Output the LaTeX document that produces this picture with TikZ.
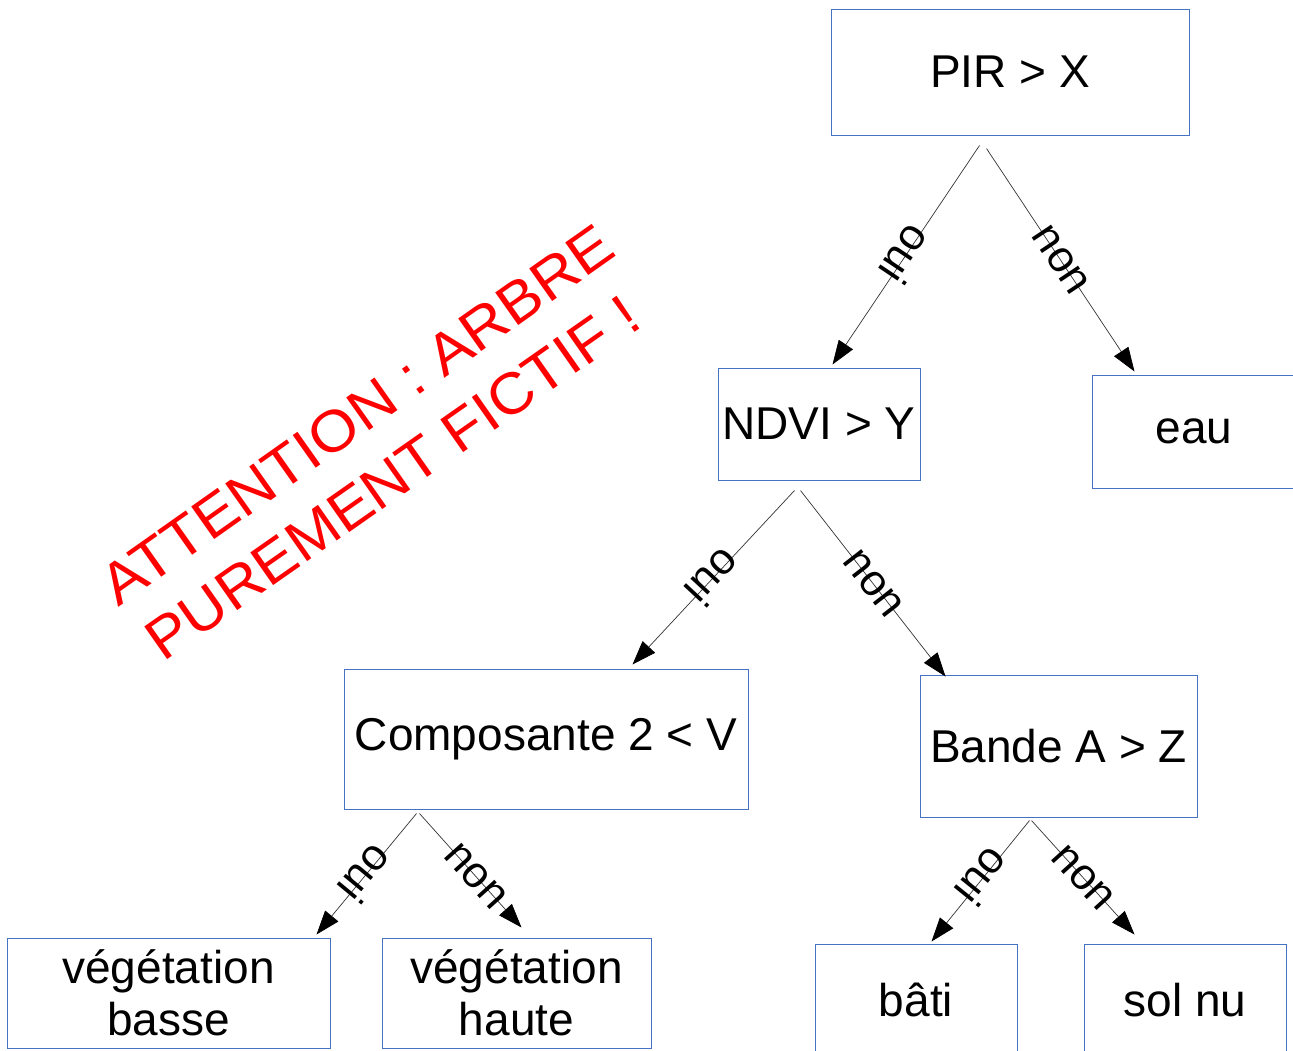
\documentclass[tikz,border=0pt]{standalone}
\usepackage{fontspec}
\setmainfont{Liberation Sans}
\usetikzlibrary{arrows.meta,calc}
\definecolor{boxblue}{RGB}{70,114,196}
\begin{document}
\begin{tikzpicture}[x=1pt,y=-1pt,
  box/.style={draw=boxblue, line width=1pt, inner sep=0pt, align=center,
    font=\fontsize{46}{52}\selectfont},
  conn/.style={draw=black!80, line width=0.7pt,
    -{Triangle[length=24pt,width=17pt,color=black,fill=black]}},
  lab/.style={font=\fontsize{44}{46}\selectfont, inner sep=0pt, sloped, allow upside down},
  warn/.style={text=red, font=\fontsize{58}{64}\selectfont, anchor=base west, inner sep=0pt}]
\clip (0,0) rectangle (1293,1050);
% boxes
\node[box, minimum width=358pt, minimum height=126pt] (pir) at (1010,72) {PIR > X};
\node[box, minimum width=202pt, minimum height=112pt] (ndvi) at (819,424) {NDVI > Y};
\node[box, minimum width=204pt, minimum height=113pt] (eau) at (1194,431.5) {eau};
\node[box, minimum width=404pt, minimum height=140pt] (comp) at (546,739) {Composante 2 < V};
\node[box, minimum width=277pt, minimum height=142pt] (bande) at (1058.5,746) {Bande A > Z};
\node[box, minimum width=323pt, minimum height=110pt] (vb) at (168.5,993) {végétation\\basse};
\node[box, minimum width=269pt, minimum height=110pt] (vh) at (516.5,993) {végétation\\haute};
\node[box, minimum width=202pt, minimum height=112pt] (bati) at (916,1000) {bâti};
\node[box, minimum width=202pt, minimum height=112pt] (solnu) at (1185,1000) {sol nu};
% fork points
\coordinate (pirA) at ($(pir.south west)+(149,10)$);
\coordinate (pirB) at ($(pir.south west)+(156,13)$);
\coordinate (ndviA) at ($(ndvi.south west)+(77,10)$);
\coordinate (ndviB) at ($(ndvi.south west)+(83,10)$);
\coordinate (compA) at ($(comp.south west)+(73,4)$);
\coordinate (compB) at ($(comp.south west)+(76,4)$);
\coordinate (bandeA) at ($(bande.south west)+(110,3)$);
\coordinate (bandeB) at ($(bande.south west)+(112,3)$);
% connectors
\draw[conn] (pirA) -- node[lab] {oui} ($(ndvi.north west)+(115,-3)$);
\draw[conn] (pirB) -- node[lab] {non} ($(eau.north west)+(43,-3)$);
\draw[conn] (ndviA) -- node[lab] {oui} ($(comp.north west)+(289,-4)$);
\draw[conn] (ndviB) -- node[lab] {non} ($(bande.north west)+(26,2)$);
\draw[conn] (compA) -- node[lab] {oui} ($(vb.north west)+(310,-3)$);
\draw[conn] (compB) -- node[lab, pos=0.55] {non} ($(vh.north west)+(140,-10)$);
\draw[conn] (bandeA) -- node[lab, pos=0.47] {oui} ($(bati.north west)+(117,-2)$);
\draw[conn] (bandeB) -- node[lab] {non} ($(solnu.north west)+(51,-9)$);
% warning
\node[warn, rotate=35.2, xscale=1.07] (w1) at (118,608) {ATTENTION : ARBRE};
\node[warn, rotate=35.0, xscale=1.06] (w2) at (163,663) {PUREMENT FICTIF !};
\end{tikzpicture}
\end{document}
